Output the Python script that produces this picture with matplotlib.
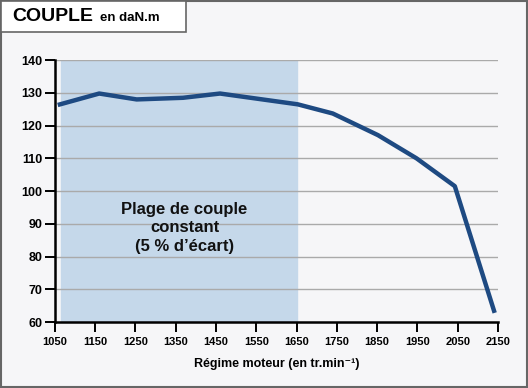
import matplotlib.pyplot as plt
from matplotlib.patches import Rectangle

plt.rcParams['font.family'] = ['Liberation Sans', 'DejaVu Sans']

# data
regime = [1057, 1160, 1253, 1368, 1460, 1653, 1740, 1852, 1948, 2043, 2142]
couple = [126.3, 129.8, 128.0, 128.5, 129.8, 126.5, 123.7, 117.1, 110.0, 101.5, 62.8]
plage = (1066, 1652)
xticks = [1050, 1150, 1250, 1350, 1450, 1550, 1650, 1750, 1850, 1950, 2050, 2150]
yticks = [60, 70, 80, 90, 100, 110, 120, 130, 140]

bg = '#f6f6f8'
fig = plt.figure(figsize=(5.28, 3.88), dpi=100, facecolor=bg)

# outer frame and title box
fig.patches.append(Rectangle((0.002, 0.003), 0.996, 0.994, transform=fig.transFigure,
                             fill=False, edgecolor='#666666', lw=1.5))
fig.patches.append(Rectangle((0.002, 0.917), 0.35, 0.08, transform=fig.transFigure,
                             facecolor='white', edgecolor='#666666', lw=1.2))
fig.text(0.023, 0.957, 'COUPLE', fontsize=14, fontweight='bold', va='center')
fig.text(0.19, 0.953, 'en daN.m', fontsize=9.5, fontweight='bold', va='center')

ax = fig.add_axes([0.104, 0.170, 0.839, 0.675])
ax.set_facecolor(bg)
ax.axvspan(plage[0], plage[1], color='#c5d8ea', zorder=0)
for y in yticks[1:]:
    ax.axhline(y, color='#aaaaaa', lw=1, zorder=1)
ax.plot(regime, couple, color='#1e4a82', lw=3.2, solid_capstyle='butt', zorder=3)

ax.text(1372, 88.8, "Plage de couple\nconstant\n(5 % d\u2019\u00e9cart)", ha='center', va='center',
        fontsize=12, fontweight='bold', linespacing=1.3, color='#111111')

ax.set_xlim(1050, 2150)
ax.set_ylim(60, 140)
ax.set_xticks(xticks)
ax.set_yticks(yticks)
ax.tick_params(axis='x', length=7, width=1.4, labelsize=8, pad=4)
ax.tick_params(axis='y', length=7, width=1.4, labelsize=9, pad=2)
for lab in ax.get_xticklabels() + ax.get_yticklabels():
    lab.set_fontweight('bold')
for s in ['top', 'right']:
    ax.spines[s].set_visible(False)
for s in ['left', 'bottom']:
    ax.spines[s].set_linewidth(1.8)
ax.set_xlabel('R\u00e9gime moteur (en tr.min\u207b\u00b9)', fontsize=9, fontweight='bold', labelpad=8)

fig.savefig('out.png', dpi=100, facecolor=bg)
